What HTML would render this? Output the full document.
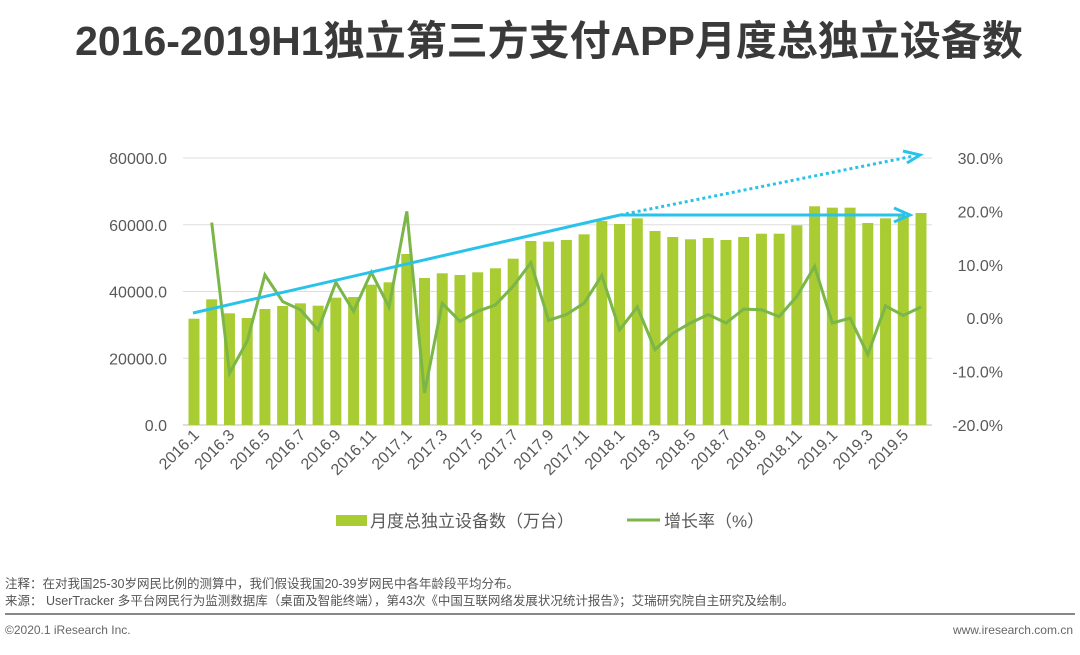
<!DOCTYPE html>
<html><head><meta charset="utf-8"><style>
body{margin:0;background:#fff;width:1080px;height:650px;overflow:hidden;font-family:"Liberation Sans","Noto Sans CJK SC",sans-serif;}
svg text{font-family:"Liberation Sans","Noto Sans CJK SC",sans-serif;}
</style></head><body>
<svg width="1080" height="650">
<text x="549" y="55" text-anchor="middle" font-size="41" font-weight="bold" fill="#3a3a3a">2016-2019H1独立第三方支付APP月度总独立设备数</text>
<g id="grid"></g>
<g id="bars"></g>
<g id="line"></g>
<g id="axes"></g>
<g stroke="#29c3ea" fill="none">
<line x1="193" y1="313" x2="620" y2="215" stroke-width="3"/>
<line x1="620" y1="215" x2="905" y2="215" stroke-width="3"/>
<polyline points="894,208 910,215 894,222" stroke-width="3"/>
<line x1="620" y1="215" x2="914" y2="156" stroke-width="3" stroke-dasharray="3,3"/>
<polyline points="903,151 920,155 907,163" stroke-width="3"/>
</g>
<g>
<rect x="336" y="515" width="31" height="11" fill="#a8cc32"/>
<text x="370" y="527" font-size="17" fill="#595959">月度总独立设备数（万台）</text>
<line x1="627" y1="520" x2="660" y2="520" stroke="#7ab648" stroke-width="3"/>
<text x="664" y="527" font-size="17" fill="#595959">增长率（%）</text>
</g>
<text x="5" y="588" font-size="12.5" fill="#555">注释：在对我国25-30岁网民比例的测算中，我们假设我国20-39岁网民中各年龄段平均分布。</text>
<text x="5" y="605" font-size="12.5" fill="#555">来源： UserTracker 多平台网民行为监测数据库（桌面及智能终端），第43次《中国互联网络发展状况统计报告》；艾瑞研究院自主研究及绘制。</text>
<line x1="5" y1="614" x2="1075" y2="614" stroke="#888" stroke-width="2"/>
<text x="5" y="634" font-size="12" fill="#666">©2020.1 iResearch Inc.</text>
<text x="1073" y="634" font-size="12" fill="#666" text-anchor="end">www.iresearch.com.cn</text>
</svg>
<script>
const categories=[];
for(let y=2016;y<=2019;y++){for(let m=1;m<=12;m++){if(y===2019&&m>6)break;categories.push(y+'.'+m);}}
const deviceValues=[31850,37650,33460,32060,34760,35650,36450,35750,38150,38350,42040,42750,51240,44050,45450,44950,45750,46950,49830,55130,54930,55430,57130,61120,60220,61920,58130,56330,55640,56030,55430,56330,57320,57320,59830,65530,65120,65120,60520,61920,62500,63520];
const growthValues=[null,17.9,-10.3,-4.3,8.1,3.1,1.6,-2.2,6.7,1.3,8.6,2.1,20,-14,2.8,-0.6,1.3,2.5,6,10.4,-0.4,0.7,2.8,8,-2.2,2.1,-5.9,-2.8,-0.9,0.7,-0.9,1.7,1.6,0.3,4.1,9.7,-0.9,0,-6.8,2.3,0.5,2.1];
const leftTicks=[0,20000,40000,60000,80000];
const rightTicks=[-20,-10,0,10,20,30];
const NS='http://www.w3.org/2000/svg';
const x0=194,step=(921-194)/41,yTop=158,yBot=425;
const xS=i=>x0+i*step;
const yL=v=>yBot-(v/80000)*(yBot-yTop);
const yR=v=>yBot-((v+20)/50)*(yBot-yTop);
function mk(tag,attrs,parent){const e=document.createElementNS(NS,tag);for(const k in attrs)e.setAttribute(k,attrs[k]);parent.appendChild(e);return e;}
const grid=document.getElementById('grid'),bars=document.getElementById('bars'),line=document.getElementById('line'),axes=document.getElementById('axes');
leftTicks.forEach(t=>{
 const l=mk('line',{x1:183,x2:932,y1:yL(t),y2:yL(t),stroke:t===0?'#bbb':'#ddd','stroke-width':1},grid);
 
 
 const tx=mk('text',{x:167,y:yL(t)+6,'text-anchor':'end','font-size':16,fill:'#595959'},axes);
 tx.textContent=t.toFixed(1);
 
 
});
rightTicks.forEach(t=>{
 const tx=mk('text',{x:1003,y:yR(t)+6,'text-anchor':'end','font-size':16,fill:'#595959'},axes);
 tx.textContent=t.toFixed(1)+'%';
 
 
});
deviceValues.forEach((v,i)=>{
 const r=mk('rect',{x:xS(i)-5.5,y:yL(v),width:11,height:yBot-yL(v),fill:'#a8cc32'},bars);
 
 
});
let pts=[];growthValues.forEach((v,i)=>{if(v!==null)pts.push(xS(i).toFixed(1)+','+yR(v).toFixed(1));});
const pl=mk('polyline',{points:pts.join(' '),fill:'none',stroke:'#7ab648','stroke-width':3,'stroke-linejoin':'miter'},line);


categories.forEach((c,i)=>{
 if(i%2!==0)return;
 const x=xS(i)+6,y=436;
 const tx=mk('text',{x:x,y:y,'text-anchor':'end','font-size':16,fill:'#595959',transform:`rotate(-45 ${x} ${y})`},axes);
 tx.textContent=c;
 
 
});
</script>
</body></html>
